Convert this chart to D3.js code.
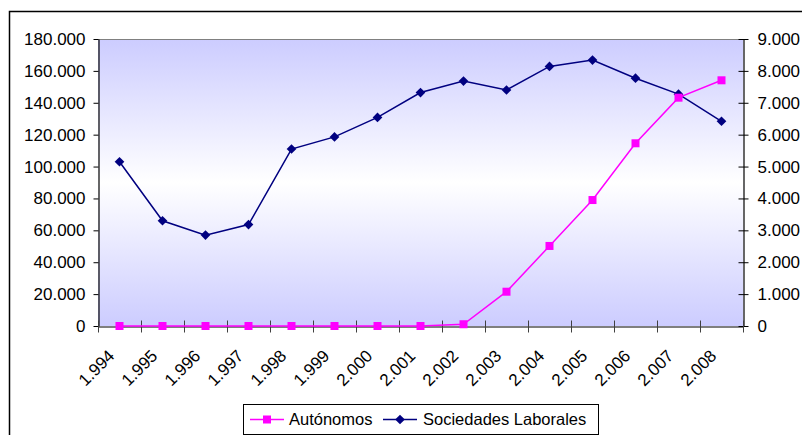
<!DOCTYPE html>
<html>
<head>
<meta charset="utf-8">
<script src="https://cdn.jsdelivr.net/npm/d3@7"></script>
<style>
  body { margin: 0; background: #fff; }
  svg { display: block; font-family: "Liberation Sans", Arial, sans-serif; }
</style>
</head>
<body>
<div id="chart_area"></div>
<script>
var width = 802
var height = 435
var margin = {top: 39, right: 59, bottom: 109, left: 98}

// Data
var years = [1994, 1995, 1996, 1997, 1998, 1999, 2000, 2001, 2002, 2003, 2004, 2005, 2006, 2007, 2008]
var autonomos = [0, 0, 0, 0, 0, 0, 0, 0, 1100, 21500, 50200, 79000, 114600, 143200, 154100]
var sociedades = [5150, 3300, 2850, 3180, 5550, 5930, 6540, 7320, 7680, 7400, 8140, 8340, 7770, 7270, 6420]
var leftTicks = [0, 20000, 40000, 60000, 80000, 100000, 120000, 140000, 160000, 180000]
var rightTicks = [0, 1000, 2000, 3000, 4000, 5000, 6000, 7000, 8000, 9000]
var seriesNames = ["Autónomos", "Sociedades Laborales"]

var magenta = "#ff00ff"
var navy = "#000080"

var es = d3.formatLocale({decimal: ",", thousands: ".", grouping: [3], currency: ["", ""]})
var fmt = es.format(",d")

var svg = d3.select("#chart_area")
  .append("svg")
  .attr("width", width)
  .attr("height", height)

var x0 = margin.left
var x1 = width - margin.right
var y0 = height - margin.bottom
var y1 = margin.top

var x = d3.scaleBand().domain(years).range([x0, x1])
var xEdge = d3.scaleLinear().domain([0, years.length]).range([x0, x1])
var yLeft = d3.scaleLinear().domain([0, 180000]).range([y0, y1])
var yRight = d3.scaleLinear().domain([0, 9000]).range([y0, y1])

// outer chart border
svg.append("rect")
  .attr("x", 9.5).attr("y", 11.5)
  .attr("width", 820).attr("height", 440)
  .attr("fill", "none")
  .attr("stroke", "#000")
  .attr("stroke-width", 1.5)

// plot background gradient
var grad = svg.append("defs").append("linearGradient")
  .attr("id", "bg").attr("x1", 0).attr("y1", 0).attr("x2", 0).attr("y2", 1)
grad.append("stop").attr("offset", "0%").attr("stop-color", "#ccccff")
grad.append("stop").attr("offset", "50%").attr("stop-color", "#ffffff")
grad.append("stop").attr("offset", "100%").attr("stop-color", "#ccccff")

svg.append("rect")
  .attr("x", x0).attr("y", y1)
  .attr("width", x1 - x0).attr("height", y0 - y1)
  .attr("fill", "url(#bg)")

svg.append("line")
  .attr("x1", x0).attr("x2", x1)
  .attr("y1", y1 + 0.5).attr("y2", y1 + 0.5)
  .attr("stroke", "#808080")

// axes
var leftAxis = svg.append("g")
  .attr("transform", "translate(" + (x0 + 0.5) + ",0)")
  .call(d3.axisLeft(yLeft).tickValues(leftTicks).tickFormat(fmt).tickSizeInner(5).tickSizeOuter(0).tickPadding(8))

var rightAxis = svg.append("g")
  .attr("transform", "translate(" + (x1 + 0.5) + ",0)")
  .call(d3.axisRight(yRight).tickValues(rightTicks).tickFormat(fmt).tickSizeInner(5).tickSizeOuter(0).tickPadding(9))
rightAxis.selectAll(".tick line").attr("x1", -5)

var bottomAxis = svg.append("g")
  .attr("transform", "translate(0," + (y0 + 0.5) + ")")
  .call(d3.axisBottom(xEdge).tickValues(d3.range(years.length + 1)).tickFormat("").tickSizeInner(6).tickSizeOuter(0))
bottomAxis.selectAll(".tick line").attr("y1", -6).attr("stroke", "#404040")

svg.selectAll(".domain").attr("stroke", "#000").attr("stroke-width", 1.2)
svg.selectAll(".tick text")
  .attr("fill", "#000")
  .style("font-size", "17px")
  .style("font-family", "'Liberation Sans', Arial, sans-serif")

// year labels, rotated
svg.append("g").selectAll("text")
  .data(years)
  .join("text")
  .attr("transform", d => "translate(" + (x(d) + x.bandwidth() / 2 - 4) + "," + (y0 + 31) + ") rotate(-45)")
  .attr("text-anchor", "end")
  .attr("fill", "#000")
  .style("font-size", "17px")
  .text(d => fmt(d))

// lines
var cx = d => x(d) + x.bandwidth() / 2

var autData = years.map((d, i) => [d, autonomos[i]])
var socData = years.map((d, i) => [d, sociedades[i]])

svg.append("path")
  .datum(socData)
  .attr("fill", "none")
  .attr("stroke", navy)
  .attr("stroke-width", 1.5)
  .attr("d", d3.line().x(d => cx(d[0])).y(d => yRight(d[1])))

svg.append("path")
  .datum(autData)
  .attr("fill", "none")
  .attr("stroke", magenta)
  .attr("stroke-width", 1.5)
  .attr("d", d3.line().x(d => cx(d[0])).y(d => yLeft(d[1])))

// markers
var diamond = d3.symbol().type(d3.symbolDiamond2).size(60)
svg.append("g").selectAll("path")
  .data(socData)
  .join("path")
  .attr("d", diamond)
  .attr("transform", d => "translate(" + cx(d[0]) + "," + yRight(d[1]) + ")")
  .attr("fill", navy)

svg.append("g").selectAll("rect")
  .data(autData)
  .join("rect")
  .attr("x", d => cx(d[0]) - 4)
  .attr("y", d => yLeft(d[1]) - 4)
  .attr("width", 8).attr("height", 8)
  .attr("fill", magenta)

// legend
var legend = svg.append("g")
legend.append("rect")
  .attr("x", 243.5).attr("y", 404.5)
  .attr("width", 355).attr("height", 30)
  .attr("fill", "#fff")
  .attr("stroke", "#000")

var legendItems = [
  {name: seriesNames[0], color: magenta, lx: 250, tx: 289, marker: "square"},
  {name: seriesNames[1], color: navy, lx: 383, tx: 423, marker: "diamond"}
]
legendItems.forEach(item => {
  legend.append("line")
    .attr("x1", item.lx).attr("x2", item.lx + 34)
    .attr("y1", 419.5).attr("y2", 419.5)
    .attr("stroke", item.color).attr("stroke-width", 1.5)
  if (item.marker === "square") {
    legend.append("rect")
      .attr("x", item.lx + 13).attr("y", 415.5)
      .attr("width", 8).attr("height", 8)
      .attr("fill", item.color)
  } else {
    legend.append("path")
      .attr("d", diamond)
      .attr("transform", "translate(" + (item.lx + 17) + ",419.5)")
      .attr("fill", item.color)
  }
  legend.append("text")
    .attr("x", item.tx).attr("y", 425)
    .attr("fill", "#000")
    .style("font-size", "16.5px")
    .text(item.name)
})
</script>
</body>
</html>
